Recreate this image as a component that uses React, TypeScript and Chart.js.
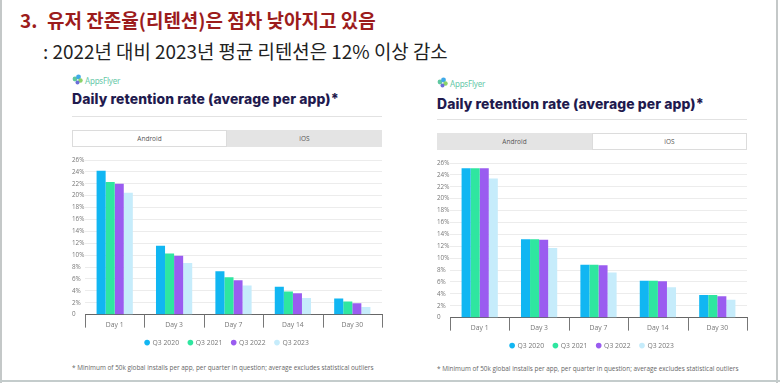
import React, { useEffect, useRef } from "react";
import { Chart, registerables } from "chart.js";

Chart.register(...registerables);

const CATEGORIES = ["Day 1", "Day 3", "Day 7", "Day 14", "Day 30"];
const SERIES_LABELS = ["Q3 2020", "Q3 2021", "Q3 2022", "Q3 2023"];
const SERIES_COLORS = ["#11b6f2", "#2fe6a0", "#9a5cf0", "#c6ecfb"];

const ANDROID_Q3_2020 = [24.2, 11.6, 7.3, 4.7, 2.7];
const ANDROID_Q3_2021 = [22.3, 10.3, 6.3, 3.9, 2.2];
const ANDROID_Q3_2022 = [22.0, 9.9, 5.8, 3.6, 1.9];
const ANDROID_Q3_2023 = [20.5, 8.7, 4.9, 2.8, 1.3];

const IOS_Q3_2020 = [25.1, 13.2, 8.9, 6.2, 3.8];
const IOS_Q3_2021 = [25.1, 13.2, 8.9, 6.2, 3.8];
const IOS_Q3_2022 = [25.1, 13.1, 8.8, 6.1, 3.6];
const IOS_Q3_2023 = [23.4, 11.7, 7.6, 5.1, 3.0];

const Y_MAX = 26;
const Y_STEP = 2;

const TITLE_NUM = "3.";
const TITLE = "유저 잔존율(리텐션)은 점차 낮아지고 있음";
const SUBTITLE = ": 2022년 대비 2023년 평균 리텐션은 12% 이상 감소";
const CHART_TITLE = "Daily retention rate (average per app)*";
const FOOTNOTE =
  "* Minimum of 50k global installs per app, per quarter in question; average excludes statistical outliers";

const CHART_FONT = "'Open Sans', 'DejaVu Sans', sans-serif";

const separatorPlugin = {
  id: "categorySeparators",
  afterDraw(chart: any) {
    const x = chart.scales.x;
    const area = chart.chartArea;
    const ctx = chart.ctx;
    ctx.save();
    ctx.strokeStyle = "#777";
    ctx.lineWidth = 1;
    for (let i = 0; i <= CATEGORIES.length; i++) {
      const px = Math.round(x.getPixelForValue(i - 0.5)) + 0.5;
      ctx.beginPath();
      ctx.moveTo(px, area.bottom);
      ctx.lineTo(px, area.bottom + 13);
      ctx.stroke();
    }
    ctx.restore();
  },
};

function BarChart({ series, left, top, width, height }: { series: number[][]; left: number; top: number; width: number; height: number }) {
  const ref = useRef<HTMLCanvasElement | null>(null);
  useEffect(() => {
    if (!ref.current) return;
    const chart = new Chart(ref.current, {
      type: "bar",
      data: {
        labels: CATEGORIES,
        datasets: series.map((vals, i) => ({
          label: SERIES_LABELS[i],
          data: vals,
          backgroundColor: SERIES_COLORS[i],
          borderWidth: 0,
          categoryPercentage: 0.61,
          barPercentage: 1.0,
        })),
      },
      plugins: [separatorPlugin],
      options: {
        animation: false,
        responsive: false,
        maintainAspectRatio: false,
        devicePixelRatio: 1,
        layout: { padding: { left: 10, right: 4, top: 10, bottom: 0 } },
        plugins: {
          tooltip: { enabled: false },
          title: { display: false },
          legend: {
            display: true,
            position: "bottom",
            labels: {
              usePointStyle: true,
              pointStyle: "circle",
              boxWidth: 4,
              boxHeight: 4,
              padding: 9.4,
              color: "#777",
              font: { size: 6.8, family: CHART_FONT },
            },
          },
        },
        scales: {
          x: {
            type: "category",
            offset: true,
            afterFit: (s: any) => {
              s.height = s.height - 5;
            },
            grid: { display: false, drawTicks: false },
            border: { display: true, color: "#666", width: 1 },
            ticks: {
              padding: 6,
              color: "#777",
              font: { size: 6.8, family: CHART_FONT },
              maxRotation: 0,
              autoSkip: false,
            },
          },
          y: {
            min: 0,
            max: Y_MAX,
            afterFit: (s: any) => {
              s.width = 13;
            },
            grid: { color: "#ececec", drawTicks: false, lineWidth: 1 },
            border: { display: false },
            ticks: {
              stepSize: Y_STEP,
              padding: 0,
              crossAlign: "far",
              color: "#777",
              font: { size: 6.3, family: CHART_FONT },
              callback: (v: any) => (Number(v) === 0 ? "0" : v + "%"),
            },
          },
        },
      },
    });
    return () => chart.destroy();
  }, []);
  return (
    <canvas
      ref={ref}
      width={width}
      height={height}
      style={{ position: "absolute", left, top, width, height }}
    />
  );
}

function Logo({ left, top }: { left: number; top: number }) {
  return (
    <div style={{ position: "absolute", left, top, display: "flex", alignItems: "center", height: 12 }}>
      <svg width="12" height="12" viewBox="0 0 12 12">
        <circle cx="3" cy="5" r="2.4" fill="#5fc7a0" />
        <circle cx="6.5" cy="3" r="2.4" fill="#3fa9e8" />
        <circle cx="8.5" cy="6.5" r="2.2" fill="#8bd36a" />
        <circle cx="5.5" cy="8.5" r="2" fill="#6a6fd8" />
      </svg>
      <span style={{ fontFamily: "'Noto Sans', sans-serif", fontSize: 8, color: "#66c8a8", marginLeft: 1, letterSpacing: -0.2 }}>
        AppsFlyer
      </span>
    </div>
  );
}

function Panel({
  x, logoY, titleY, lineY, tabY, activeTab, series, canvasTop, canvasHeight, footY,
}: {
  x: number; logoY: number; titleY: number; lineY: number; tabY: number; activeTab: number; series: number[][]; canvasTop: number; canvasHeight: number; footY: number;
}) {
  const w = 310;
  const tabW = 155;
  const tabStyle = (active: boolean, l: number): React.CSSProperties => ({
    position: "absolute",
    left: l,
    top: tabY,
    width: tabW,
    height: 17,
    boxSizing: "border-box",
    background: active ? "#ffffff" : "#e4e4e4",
    border: active ? "1px solid #dcdcdc" : "1px solid #e4e4e4",
    fontFamily: CHART_FONT,
    fontSize: 6.5,
    color: "#555",
    display: "flex",
    alignItems: "center",
    justifyContent: "center",
  });
  return (
    <>
      <Logo left={x} top={logoY} />
      <div
        style={{
          position: "absolute",
          left: x,
          top: titleY,
          fontFamily: "Inter, 'Noto Sans', sans-serif",
          fontWeight: 800,
          fontSize: 13.9,
          color: "#1f1a4e",
          whiteSpace: "nowrap",
          letterSpacing: 0.1,
        }}
      >
        {CHART_TITLE}
      </div>
      <div style={{ position: "absolute", left: x, top: lineY, width: w, height: 1, background: "#e2e2e2" }} />
      <div style={tabStyle(activeTab === 0, x)}>Android</div>
      <div style={tabStyle(activeTab === 1, x + tabW)}>iOS</div>
      <BarChart series={series} left={x - 10} top={canvasTop} width={w + 14} height={canvasHeight} />
      <div
        style={{
          position: "absolute",
          left: x,
          top: footY,
          fontFamily: CHART_FONT,
          fontSize: 6.4,
          color: "#666",
          whiteSpace: "nowrap",
        }}
      >
        {FOOTNOTE}
      </div>
    </>
  );
}

export default function App() {
  return (
    <div style={{ position: "fixed", left: 0, top: 0, width: 780, height: 383, background: "#fff", overflow: "hidden" }}>
      <div style={{ position: "absolute", left: 0, top: 0, width: 2, height: 383, background: "#c4c8c8" }} />
      <div style={{ position: "absolute", left: 776, top: 0, width: 2, height: 383, background: "#c4c8c8" }} />
      <div style={{ position: "absolute", left: 0, top: 380, width: 780, height: 2, background: "#c4cccc" }} />
      <div
        style={{
          position: "absolute",
          left: 20,
          top: 6,
          fontFamily: "'Noto Sans CJK KR', sans-serif",
          fontWeight: 700,
          fontSize: 19,
          color: "#9c1c1c",
          whiteSpace: "nowrap",
        }}
      >
        {TITLE_NUM}
      </div>
      <div
        style={{
          position: "absolute",
          left: 47,
          top: 6,
          fontFamily: "'Noto Sans CJK KR', sans-serif",
          fontWeight: 700,
          fontSize: 19,
          color: "#9c1c1c",
          whiteSpace: "nowrap",
        }}
      >
        {TITLE}
      </div>
      <div
        style={{
          position: "absolute",
          left: 43,
          top: 37,
          fontFamily: "'Noto Sans CJK KR', sans-serif",
          fontWeight: 400,
          fontSize: 18.9,
          color: "#222",
          whiteSpace: "nowrap",
        }}
      >
        {SUBTITLE}
      </div>
      <Panel
        x={72}
        logoY={74}
        titleY={91}
        lineY={116}
        tabY={130}
        activeTab={0}
        series={[ANDROID_Q3_2020, ANDROID_Q3_2021, ANDROID_Q3_2022, ANDROID_Q3_2023]}
        canvasTop={150}
        canvasHeight={206}
        footY={363}
      />
      <Panel
        x={437}
        logoY={77}
        titleY={96}
        lineY={119}
        tabY={133}
        activeTab={1}
        series={[IOS_Q3_2020, IOS_Q3_2021, IOS_Q3_2022, IOS_Q3_2023]}
        canvasTop={153}
        canvasHeight={206}
        footY={364}
      />
    </div>
  );
}
